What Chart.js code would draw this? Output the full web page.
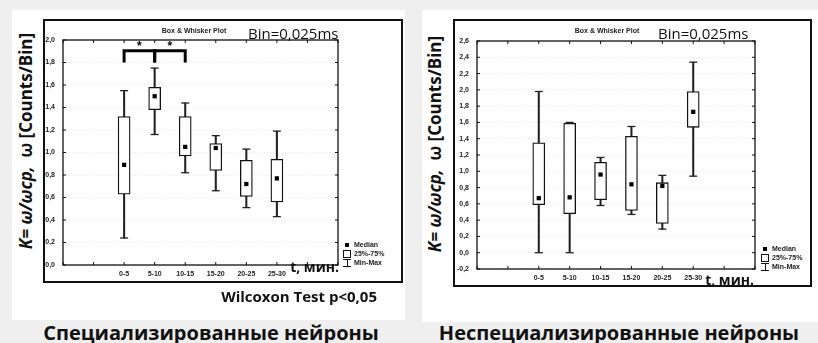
<!DOCTYPE html>
<html>
<head>
<meta charset="utf-8">
<script src="https://cdn.jsdelivr.net/npm/chart.js@4.4.1/dist/chart.umd.min.js"></script>
<style>
	body {
		margin: 0;
		width: 818px;
		height: 343px;
		background: #efefef;
		position: relative;
		overflow: hidden;
		font-family: 'Open Sans', sans-serif;
		color: #111;
	}
	.panel { position: absolute; background: #fff; }
	.frame { position: absolute; border: 2px solid #111; box-sizing: border-box; }
	canvas { position: absolute; }
	.t { position: absolute; white-space: nowrap; }
	.small { font: bold 7px 'Liberation Sans', Arial, sans-serif; color: #222; }
	.bin { font-size: 15px; transform: translateY(-50%); }
	.ytitle { font-size: 17px; font-weight: bold; transform: translate(-50%, -50%) rotate(-90deg); }
	.unit { font-size: 15px; font-weight: bold; transform: translate(-100%, -50%); }
	.unit.t-min { font-size: 14px; }
	.center { transform: translate(-50%, -50%); }
	.big { font-size: 20px; font-weight: bold; transform: translate(-50%, -50%); }
	.legend div { height: 9px; line-height: 9px; }
	.ic { display: inline-block; vertical-align: middle; margin-right: 3px; box-sizing: border-box; }
	.ic.med { width: 4px; height: 4px; background: #000; margin: 0 5px 0 2px; }
	.ic.box { width: 8px; height: 8px; border: 1px solid #111; }
	.ic.mm { width: 8px; height: 8px; border-top: 1px solid #111; border-bottom: 1px solid #111;
		background: linear-gradient(#111, #111) center / 1px 100% no-repeat; }
</style>
</head>
<body>
	<!-- left panel -->
	<div class="panel" style="left:12px;top:10px;width:393px;height:310px"></div>
	<div class="frame" style="left:43px;top:19px;width:360px;height:264px"></div>
	<canvas id="chartSpec" width="356" height="260" style="left:45px;top:21px"></canvas>
	<div class="t small center" style="left:194px;top:30px">Box &amp; Whisker Plot</div>
	<div class="t bin" style="left:248px;top:33px">Bin=0,025ms</div>
	<div class="t ytitle" style="left:25px;top:141px"><i>K= ω/ωcp,</i>&nbsp; ω [Counts/Bin]</div>
	<div class="t unit t-min" style="left:339px;top:266px">t, мин.</div>
	<div class="t small legend" style="left:343px;top:240px">
		<div><span class="ic med"></span>Median</div>
		<div><span class="ic box"></span>25%-75%</div>
		<div><span class="ic mm"></span>Min-Max</div>
	</div>
	<div class="t unit" style="left:377px;top:296px">Wilcoxon Test p&lt;0,05</div>
	<div class="t big" style="left:211px;top:332px">Специализированные нейроны</div>

	<!-- right panel -->
	<div class="panel" style="left:422px;top:10px;width:396px;height:312px"></div>
	<div class="frame" style="left:453px;top:19px;width:359px;height:268px"></div>
	<canvas id="chartNon" width="355" height="264" style="left:455px;top:21px"></canvas>
	<div class="t small center" style="left:607px;top:30px">Box &amp; Whisker Plot</div>
	<div class="t bin" style="left:658px;top:33px">Bin=0,025ms</div>
	<div class="t ytitle" style="left:434px;top:144px"><i>K= ω/ωcp,</i>&nbsp; ω [Counts/Bin]</div>
	<div class="t unit t-min" style="left:754px;top:279px">t, мин.</div>
	<div class="t small legend" style="left:761px;top:244px">
		<div><span class="ic med"></span>Median</div>
		<div><span class="ic box"></span>25%-75%</div>
		<div><span class="ic mm"></span>Min-Max</div>
	</div>
	<div class="t big" style="left:619px;top:332px">Неспециализированные нейроны</div>

<script>
// time windows, minutes
const categories = ['0-5', '5-10', '10-15', '15-20', '20-25', '25-30'];

// specialised neurons
const specMin = [0.24, 1.16, 0.82, 0.66, 0.51, 0.43];
const specQ1 = [0.63, 1.38, 0.97, 0.84, 0.61, 0.56];
const specMedian = [0.89, 1.50, 1.05, 1.04, 0.72, 0.77];
const specQ3 = [1.32, 1.58, 1.32, 1.08, 0.93, 0.94];
const specMax = [1.55, 1.75, 1.44, 1.15, 1.03, 1.19];

// non-specialised neurons
const nonMin = [0.00, 0.00, 0.58, 0.47, 0.29, 0.94];
const nonQ1 = [0.59, 0.48, 0.65, 0.52, 0.36, 1.54];
const nonMedian = [0.67, 0.68, 0.96, 0.84, 0.82, 1.73];
const nonQ3 = [1.35, 1.59, 1.11, 1.43, 0.86, 1.98];
const nonMax = [1.98, 1.60, 1.17, 1.55, 0.95, 2.34];

// Wilcoxon significant pairs (category indexes)
const sigPairs = [[0, 1], [1, 2]];
const bracketTop = 1.905;
const bracketLeg = 1.80;
const starLevel = 1.96;

const tickFont = { family: 'Liberation Sans', size: 7, weight: 'bold' };
const ink = '#111';

function boxDatasets(mins, q1s, meds, q3s, maxs) {
	const caps = [];
	categories.forEach((c, i) => {
		caps.push({ x: i, y: mins[i] });
		caps.push({ x: i, y: maxs[i] });
	});
	return [
		{
			type: 'bar',
			label: 'Min-Max',
			data: categories.map((c, i) => ({ x: i, y: [mins[i], maxs[i]] })),
			backgroundColor: '#222',
			barThickness: 1.4,
			grouped: false,
			order: 4,
		},
		{
			type: 'line',
			label: 'caps',
			data: caps,
			showLine: false,
			pointStyle: 'line',
			pointRadius: 4,
			pointBorderWidth: 1.3,
			pointBorderColor: '#222',
			order: 3,
		},
		{
			type: 'bar',
			label: '25%-75%',
			data: categories.map((c, i) => ({ x: i, y: [q1s[i], q3s[i]] })),
			backgroundColor: '#fff',
			borderColor: ink,
			borderWidth: 1.3,
			borderSkipped: false,
			barThickness: 12,
			grouped: false,
			order: 2,
		},
		{
			type: 'line',
			label: 'Median',
			data: categories.map((c, i) => ({ x: i, y: meds[i] })),
			showLine: false,
			pointStyle: 'rect',
			pointRadius: 3,
			pointBackgroundColor: '#000',
			pointBorderWidth: 0,
			order: 1,
		},
	];
}

// box around the plot with inner tick marks on all four sides
const plotFrame = {
	id: 'plotFrame',
	afterDatasetsDraw(chart) {
		const { ctx, chartArea: a, scales: { x, y } } = chart;
		ctx.save();
		ctx.strokeStyle = ink;
		ctx.lineWidth = 1.3;
		ctx.strokeRect(a.left, a.top, a.right - a.left, a.bottom - a.top);
		ctx.lineWidth = 1;
		ctx.beginPath();
		x.ticks.forEach(t => {
			const px = x.getPixelForValue(t.value);
			ctx.moveTo(px, a.bottom); ctx.lineTo(px, a.bottom - 3);
			ctx.moveTo(px, a.top); ctx.lineTo(px, a.top + 3);
		});
		y.ticks.forEach(t => {
			const py = y.getPixelForValue(t.value);
			ctx.moveTo(a.left, py); ctx.lineTo(a.left + 3, py);
			ctx.moveTo(a.right, py); ctx.lineTo(a.right - 3, py);
		});
		ctx.stroke();
		ctx.restore();
	},
};

// asterisks over the significance brackets
const sigStars = {
	id: 'sigStars',
	afterDatasetsDraw(chart) {
		if (!chart.options.plugins.sigStars.show) return;
		const { ctx, scales: { x, y } } = chart;
		ctx.save();
		ctx.fillStyle = '#000';
		ctx.font = 'bold 12px "Liberation Sans"';
		ctx.textAlign = 'center';
		ctx.textBaseline = 'middle';
		sigPairs.forEach(([a, b]) => {
			ctx.fillText('*', x.getPixelForValue((a + b) / 2), y.getPixelForValue(starLevel) + 2);
		});
		ctx.restore();
	},
};

function makeChart(id, datasets, yMin, yMax, yWidth, pad) {
	return new Chart(document.getElementById(id), {
		type: 'bar',
		data: { datasets },
		options: {
			responsive: false,
			animation: false,
			events: [],
			layout: { padding: pad },
			scales: {
				x: {
					type: 'linear',
					min: -2,
					max: 7,
					offset: false,
					grid: { display: false, offset: false, drawTicks: false },
					border: { display: false },
					ticks: {
						stepSize: 1,
						autoSkip: false,
						maxRotation: 0,
						padding: 5,
						font: tickFont,
						color: '#222',
						callback: v => categories[v] ?? '',
					},
					afterFit: scale => {
						scale.height = 16;
					},
				},
				y: {
					min: yMin,
					max: yMax,
					grid: { color: 'rgba(0,0,0,0.09)', drawTicks: false },
					border: { display: false, dash: [1, 2] },
					ticks: {
						stepSize: 0.2,
						padding: 8,
						font: tickFont,
						color: '#222',
						callback: v => v.toFixed(1).replace('.', ','),
					},
					afterFit: scale => {
						scale.width = yWidth;
					},
				},
			},
			plugins: {
				legend: { display: false },
				tooltip: { enabled: false },
				sigStars: { show: id === 'chartSpec' },
			},
		},
		plugins: [plotFrame, sigStars],
	});
}

const brackets = sigPairs.map(([a, b]) => ({
	type: 'line',
	label: 'p<0,05',
	data: [
		{ x: a, y: bracketLeg },
		{ x: a, y: bracketTop },
		{ x: b, y: bracketTop },
		{ x: b, y: bracketLeg },
	],
	borderColor: '#000',
	borderWidth: 3,
	pointRadius: 0,
	tension: 0,
	order: 0,
}));

makeChart(
	'chartSpec',
	[...boxDatasets(specMin, specQ1, specMedian, specQ3, specMax), ...brackets],
	0, 2, 18,
	{ left: 0, top: 19, right: 63, bottom: 0 }
);

makeChart(
	'chartNon',
	boxDatasets(nonMin, nonQ1, nonMedian, nonQ3, nonMax),
	-0.2, 2.6, 22,
	{ left: 0, top: 20, right: 55, bottom: 0 }
);
</script>
</body>
</html>
